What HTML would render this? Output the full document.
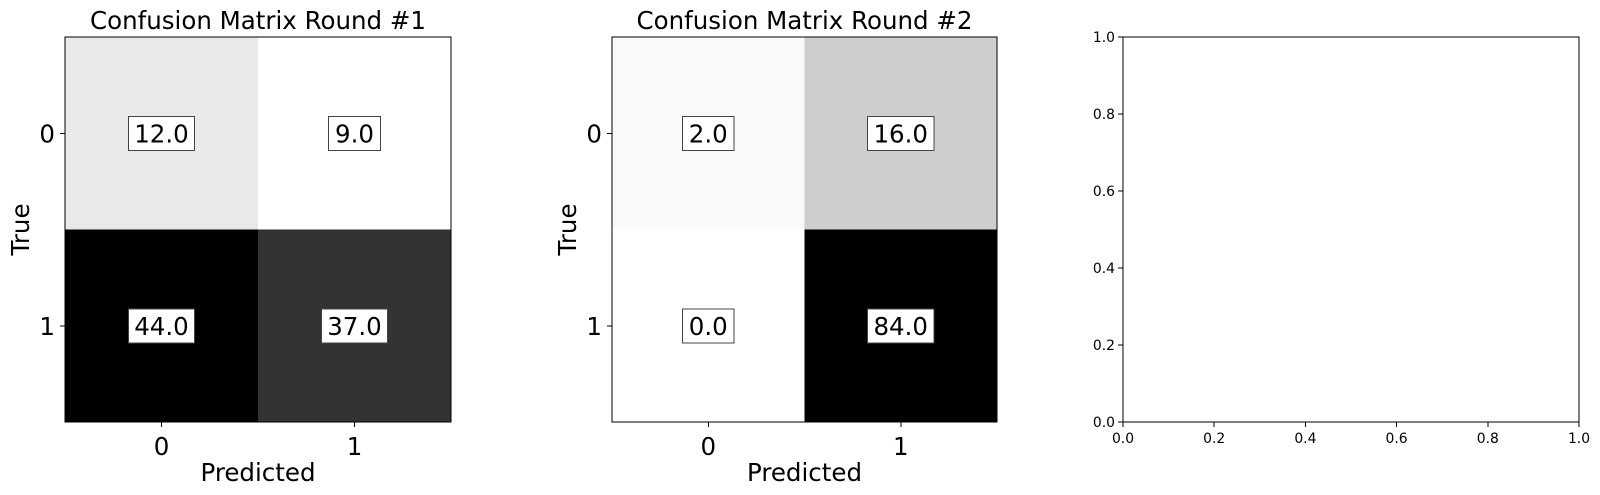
<!DOCTYPE html>
<html><head><meta charset="utf-8"><style>
html,body{margin:0;padding:0;background:#fff;}
svg{display:block;font-family:"DejaVu Sans","Liberation Sans",sans-serif;}
line,rect{shape-rendering:crispEdges;}
</style></head><body>
<svg id="fig" width="1600" height="495" viewBox="0 0 1600 495"></svg>
<script>
const categories = [0, 1];
const round1Values = [[12, 9], [44, 37]];
const round2Values = [[2, 16], [0, 84]];
const panelTitles = ["Confusion Matrix Round #1", "Confusion Matrix Round #2"];
const emptyTicks = [0, 0.2, 0.4, 0.6, 0.8, 1.0];
const emptyTickLabels = ["0.0", "0.2", "0.4", "0.6", "0.8", "1.0"];

const NS = "http://www.w3.org/2000/svg";
const svg = document.getElementById("fig");
function mk(tag, attrs, parent) {
  const e = document.createElementNS(NS, tag);
  for (const k in attrs) e.setAttribute(k, attrs[k]);
  (parent || svg).appendChild(e);
  return e;
}
function grayFor(v, mn, mx) {
  const t = mx === mn ? 0 : (v - mn) / (mx - mn);
  const g = Math.round(255 * (1 - t));
  return "rgb(" + g + "," + g + "," + g + ")";
}
function drawMatrix(values, title, L, R, T, B, idx) {
  const g = mk("g", {});
  
  
  const n = categories.length;
  const xs = c => L + (c + 0.5) * (R - L) / n;
  const ys = r => T + (r + 0.5) * (B - T) / n;
  const cw = (R - L) / n, ch = (B - T) / n;
  const flat = values.flat();
  const mn = Math.min(...flat), mx = Math.max(...flat);
  values.forEach((row, r) => row.forEach((v, c) => {
    const rect = mk("rect", {x: xs(c) - cw / 2, y: ys(r) - ch / 2, width: cw + 0.5, height: ch + 0.5, fill: grayFor(v, mn, mx)}, g);
    
    
    const label = v.toFixed(1);
    const w = label.length * 14.3 + 9;
    const box = mk("rect", {x: xs(c) - w / 2, y: ys(r) - 17, width: w, height: 34, fill: "#fff", stroke: "#444", "stroke-width": 1}, g);
    
    
    const t = mk("text", {x: xs(c), y: ys(r) + 9, "text-anchor": "middle", "font-size": 24.5, fill: "#000"}, g);
    t.textContent = label;
    
    
  }));
  const frame = mk("rect", {x: L, y: T, width: R - L, height: B - T, fill: "none", stroke: "#000", "stroke-width": 1}, g);
  
  
  categories.forEach((cat, i) => {
    mk("line", {x1: xs(i), x2: xs(i), y1: B, y2: B + 5, stroke: "#000"}, g);
    const tx = mk("text", {x: xs(i), y: B + 33, "text-anchor": "middle", "font-size": 24.5}, g);
    tx.textContent = cat;
    
    
    mk("line", {x1: L - 5, x2: L, y1: ys(i), y2: ys(i), stroke: "#000"}, g);
    const ty = mk("text", {x: L - 10, y: ys(i) + 9, "text-anchor": "end", "font-size": 24.5}, g);
    ty.textContent = cat;
    
    
  });
  const tt = mk("text", {x: (L + R) / 2, y: 29, "text-anchor": "middle", "font-size": 24.5}, g);
  tt.textContent = title;
  
  
  const xl = mk("text", {x: (L + R) / 2, y: 481, "text-anchor": "middle", "font-size": 24.5}, g);
  xl.textContent = "Predicted";
  
  
  const yl = mk("text", {x: 0, y: 0, "text-anchor": "middle", "font-size": 24.5, transform: "translate(" + (L - 36) + "," + ((T + B) / 2) + ") rotate(-90)"}, g);
  yl.textContent = "True";
  
  
}
drawMatrix(round1Values, panelTitles[0], 65, 451, 37, 422, 1);
drawMatrix(round2Values, panelTitles[1], 612, 997, 37, 422, 2);

(function () {
  const L = 1123, R = 1579, T = 37, B = 422;
  const g = mk("g", {});
  
  
  const xs = v => L + v * (R - L);
  const ys = v => B - v * (B - T);
  const frame = mk("rect", {x: L, y: T, width: R - L, height: B - T, fill: "none", stroke: "#000", "stroke-width": 1}, g);
  
  
  emptyTicks.forEach((v, i) => {
    mk("line", {x1: xs(v), x2: xs(v), y1: B, y2: B + 5, stroke: "#000"}, g);
    const tx = mk("text", {x: xs(v), y: B + 21, "text-anchor": "middle", "font-size": 13.9}, g);
    tx.textContent = emptyTickLabels[i];
    
    
    mk("line", {x1: L - 5, x2: L, y1: ys(v), y2: ys(v), stroke: "#000"}, g);
    const ty = mk("text", {x: L - 8, y: ys(v) + 5, "text-anchor": "end", "font-size": 13.9}, g);
    ty.textContent = emptyTickLabels[i];
    
    
  });
})();
</script>
</body></html>
